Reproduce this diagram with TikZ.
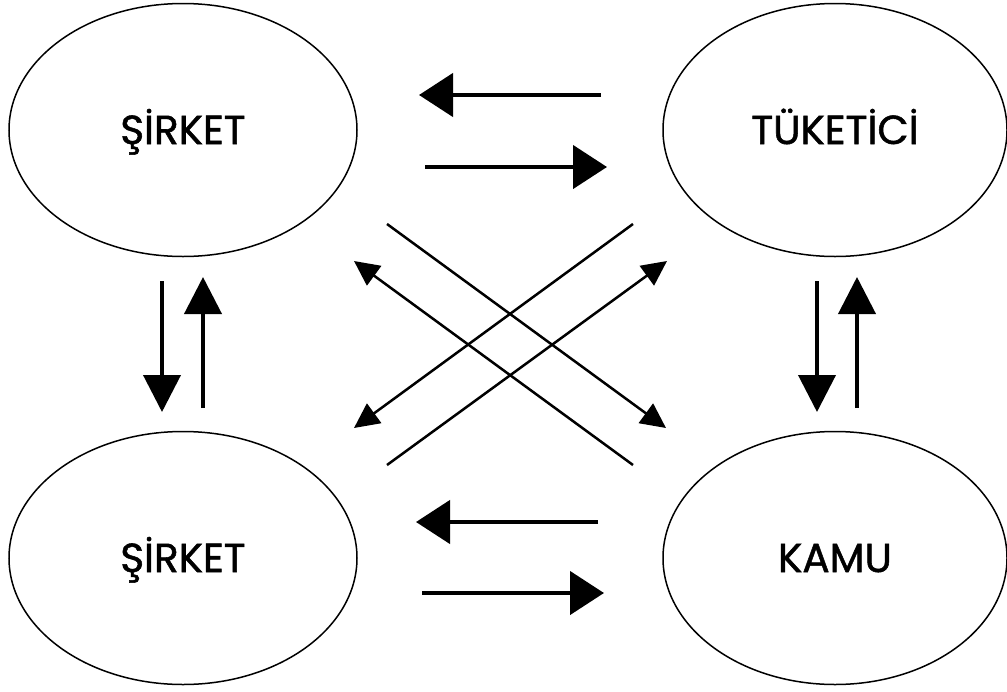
\documentclass[tikz,border=0pt]{standalone}
\usepackage{fontspec}
\newfontfamily\labelfont{Poppins}[FakeBold=1.3]
\usetikzlibrary{shapes.geometric,arrows.meta}

\tikzset{
  blob/.style={ellipse, draw, line width=1.5pt, inner sep=0pt,
    minimum height=253pt, text height=28pt, text depth=0pt,
    font=\labelfont\fontsize{40.5}{40.5}\selectfont},
  flow/.style={line width=4.5pt, -{Triangle[length=34pt, width=43pt]}},
  vflow/.style={line width=4pt, -{Triangle[length=37pt, width=37pt]}},
  cross/.style={line width=2.5pt, -{Triangle[length=25pt, width=24pt]}},
  plainline/.style={line width=2.5pt}
}

\begin{document}
\begin{tikzpicture}[x=1pt, y=-1pt]
  \useasboundingbox (0,0) rectangle (1007,691);

  % the four actors
  \node[blob, minimum width=348pt] (firmA) at (183,130) {ŞİRKET};
  \node[blob, minimum width=344pt] (cons)  at (835,130) {TÜKETİCİ};
  \node[blob, minimum width=348pt] (firmB) at (183,558) {ŞİRKET};
  \node[blob, minimum width=344pt] (gov)   at (835,558) {KAMU};

  % end points of the flows
  \coordinate (tA1) at (601,95);  \coordinate (tA2) at (419,95);
  \coordinate (tB1) at (425,167); \coordinate (tB2) at (607,167);
  \coordinate (bA1) at (598,522); \coordinate (bA2) at (416,522);
  \coordinate (bB1) at (422,593); \coordinate (bB2) at (604,593);

  \coordinate (lD1) at (162,281); \coordinate (lD2) at (162,412);
  \coordinate (lU1) at (203,408); \coordinate (lU2) at (203,277);
  \coordinate (rD1) at (817,281); \coordinate (rD2) at (817,412);
  \coordinate (rU1) at (857,408); \coordinate (rU2) at (857,277);

  \coordinate (x1a) at (387,224); \coordinate (x1b) at (666,428);
  \coordinate (x2a) at (633,224); \coordinate (x2b) at (354,428);
  \coordinate (x3a) at (633,465); \coordinate (x3b) at (354,261);
  \coordinate (x4a) at (387,465); \coordinate (x4b) at (667,261);

  % horizontal flows
  \draw[flow] (tA1) -- (tA2);
  \draw[flow] (tB1) -- (tB2);
  \draw[flow] (bA1) -- (bA2);
  \draw[flow] (bB1) -- (bB2);

  % vertical flows
  \draw[vflow] (lD1) -- (lD2);
  \draw[vflow] (lU1) -- (lU2);
  \draw[vflow] (rD1) -- (rD2);
  \draw[vflow] (rU1) -- (rU2);

  % crossing flows
  \draw[cross] (x1a) -- (x1b);
  \draw[cross] (x2a) -- (x2b);
  \draw[cross] (x3a) -- (x3b);
  \draw[cross] (x4a) -- (x4b);
\end{tikzpicture}
\end{document}
